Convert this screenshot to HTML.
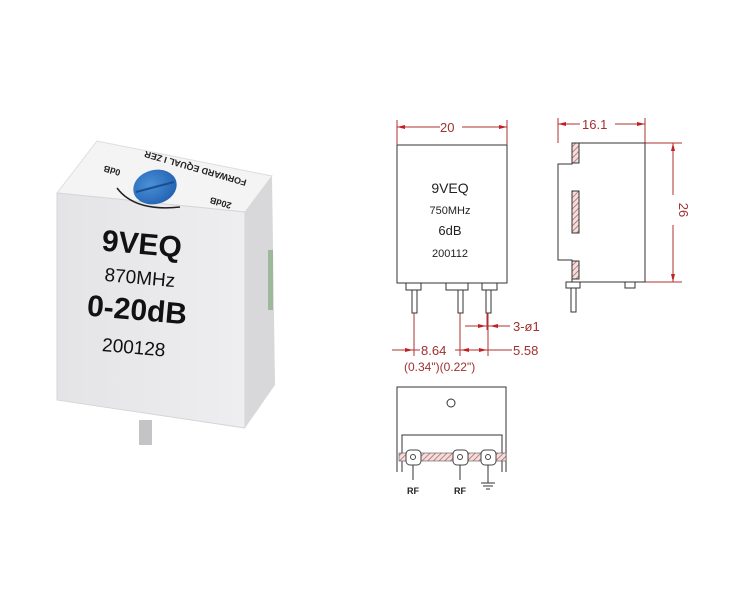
<!DOCTYPE html>
<html><head><meta charset="utf-8"><style>
html,body{margin:0;padding:0;background:#fff}
svg{display:block}
text{font-family:"Liberation Sans",sans-serif}
</style></head><body>
<svg width="736" height="597" viewBox="0 0 736 597" xmlns="http://www.w3.org/2000/svg">
<defs>
<pattern id="h" width="4" height="4" patternUnits="userSpaceOnUse" patternTransform="rotate(45)">
<rect width="4" height="4" fill="#f3dede"/><line x1="0" y1="0" x2="0" y2="4" stroke="#b06060" stroke-width="1.5"/></pattern>
<linearGradient id="fr" x1="0" y1="0" x2="1" y2="0"><stop offset="0" stop-color="#e4e4e6"/><stop offset="1" stop-color="#eeeef0"/></linearGradient>
<radialGradient id="kb" cx="0.4" cy="0.4" r="0.7"><stop offset="0" stop-color="#4a90d8"/><stop offset="1" stop-color="#1f5fae"/></radialGradient>
</defs>
<!-- photo -->
<polygon points="57,193 97,141 272,176 245,212" fill="#f4f4f5" stroke="#ddd"/>
<polygon points="245,212 272,176 275,385 245,428" fill="#d8d8da"/>
<rect x="268" y="250" width="5" height="60" fill="#9db89a"/>
<polygon points="57,193 245,212 245,428 57,400" fill="url(#fr)" stroke="#d6d6d8"/>
<rect x="139" y="420" width="13" height="25" fill="#c4c4c6"/>
<ellipse cx="155" cy="187" rx="22" ry="17" fill="url(#kb)" transform="rotate(-15 155 187)"/>
<line x1="136" y1="192" x2="174" y2="182" stroke="#1a4f90" stroke-width="2"/>
<path d="M117,188 Q135,212 180,207" fill="none" stroke="#222" stroke-width="1.5"/>
<g font-size="9" font-weight="bold" fill="#222">
<text transform="translate(247,180) rotate(196)">FORWARD  EQUAL I ZER</text>
<text transform="translate(121,170) rotate(196)">0dB</text>
<text transform="translate(232,203) rotate(196)">20dB</text>
</g>
<g transform="rotate(5 150 300)" fill="#111" text-anchor="middle">
<text x="137" y="255" font-size="30" font-weight="bold">9VEQ</text>
<text x="138" y="285" font-size="19">870MHz</text>
<text x="138" y="321" font-size="30" font-weight="bold">0-20dB</text>
<text x="138" y="355" font-size="19">200128</text>
</g>
<!-- front drawing -->
<g stroke="#333" fill="none" stroke-width="1">
<rect x="397" y="145" width="110" height="138"/>
<rect x="406" y="283" width="15" height="7"/><rect x="446" y="283" width="22" height="7"/><rect x="482" y="283" width="15" height="7"/>
<rect x="412" y="290" width="5" height="23"/><rect x="458" y="290" width="5" height="23"/><rect x="486" y="290" width="5" height="23"/>
</g>
<g fill="#222" text-anchor="middle">
<text x="450" y="193" font-size="14">9VEQ</text>
<text x="450" y="214" font-size="11">750MHz</text>
<text x="450" y="235" font-size="13">6dB</text>
<text x="450" y="257" font-size="11">200112</text>
</g>
<g stroke="#b03030" stroke-width="1" fill="none">
<line x1="397" y1="120" x2="397" y2="145"/><line x1="507" y1="120" x2="507" y2="145"/>
<line x1="397" y1="127" x2="440" y2="127"/><line x1="462" y1="127" x2="507" y2="127"/>
<line x1="414" y1="313" x2="414" y2="356"/><line x1="460" y1="313" x2="460" y2="356"/><line x1="488" y1="313" x2="488" y2="356"/><line x1="487" y1="313" x2="487" y2="330"/>
<line x1="465" y1="326" x2="510" y2="326"/>
<line x1="392" y1="350" x2="420" y2="350"/><line x1="455" y1="350" x2="512" y2="350"/>
<line x1="558" y1="118" x2="558" y2="143"/><line x1="645" y1="118" x2="645" y2="143"/>
<line x1="558" y1="124" x2="580" y2="124"/><line x1="615" y1="124" x2="645" y2="124"/>
<line x1="645" y1="143" x2="682" y2="143"/><line x1="645" y1="282" x2="682" y2="282"/>
<line x1="673" y1="143" x2="673" y2="195"/><line x1="673" y1="225" x2="673" y2="282"/>
</g>
<g fill="#c02020">
<polygon points="397,127 405,125 405,129"/><polygon points="507,127 499,125 499,129"/>
<polygon points="558,124 566,122 566,126"/><polygon points="645,124 637,122 637,126"/>
<polygon points="673,143 671,151 675,151"/><polygon points="673,282 671,274 675,274"/>
<polygon points="486,326 478,324 478,328"/><polygon points="490,326 498,324 498,328"/>
<polygon points="413,350 405,348 405,352"/><polygon points="461,350 469,348 469,352"/><polygon points="487,350 479,348 479,352"/>
</g>
<g fill="#a03030" font-size="13">
<text x="440" y="132">20</text>
<text x="582" y="129">16.1</text>
<text x="513" y="331">3-ø1</text>
<text x="421" y="355">8.64</text>
<text x="513" y="355">5.58</text>
<text x="404" y="371" font-size="12">(0.34")(0.22")</text>
<text x="0" y="0" transform="translate(679,210) rotate(90)" text-anchor="middle">26</text>
</g>
<!-- side view -->
<g stroke="#333" fill="none">
<path d="M572,143 H645 V282 H572 V260 H558 V164 H572 Z"/>
<rect x="566" y="282" width="14" height="6"/><rect x="571" y="288" width="5" height="24"/>
<rect x="625" y="282" width="10" height="6"/>
</g>
<g fill="url(#h)" stroke="#333">
<rect x="572" y="143" width="7" height="20"/><rect x="572" y="191" width="7" height="42"/><rect x="572" y="261" width="7" height="18"/>
</g>
<!-- bottom view -->
<g stroke="#333" fill="none">
<path d="M397,472 V387 H506 V472"/>
<path d="M402,472 V435 H502 V472"/>
<circle cx="451" cy="403" r="4"/>
</g>
<rect x="399" y="453" width="107" height="8" fill="url(#h)" stroke="#555" stroke-width="0.6"/>
<g fill="#fff" stroke="#444">
<rect x="406" y="450" width="15" height="15" rx="4"/><rect x="453" y="450" width="15" height="15" rx="4"/><rect x="481" y="450" width="15" height="15" rx="4"/>
<circle cx="413" cy="457" r="2.5"/><circle cx="460" cy="457" r="2.5"/><circle cx="488" cy="457" r="2.5"/>
</g>
<g stroke="#333"><line x1="413" y1="465" x2="413" y2="480"/><line x1="460" y1="465" x2="460" y2="480"/><line x1="488" y1="465" x2="488" y2="483"/>
<line x1="481" y1="483" x2="495" y2="483"/><line x1="483" y1="486" x2="493" y2="486"/><line x1="486" y1="489" x2="490" y2="489"/></g>
<g font-size="9" font-weight="bold" fill="#222" text-anchor="middle"><text x="413" y="494">RF</text><text x="460" y="494">RF</text></g>
</svg>
</body></html>
